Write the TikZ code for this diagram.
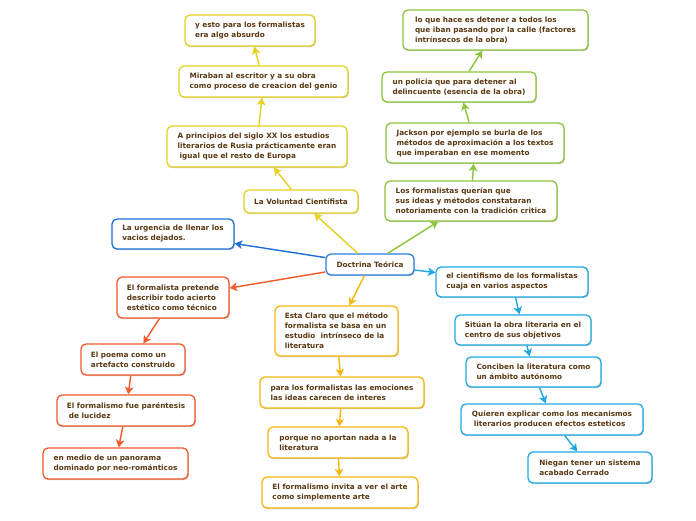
\documentclass[tikz,border=0pt]{standalone}
\usepackage{fontspec}
\setmainfont{DejaVu Sans}
\usetikzlibrary{arrows.meta,shadows}
\definecolor{cy}{HTML}{E6D01E}
\definecolor{cg}{HTML}{8CC43A}
\definecolor{cb}{HTML}{1F6ED6}
\definecolor{cc}{HTML}{2B7DE0}
\definecolor{cl}{HTML}{1FA8E2}
\definecolor{cr}{HTML}{F2592B}
\definecolor{co}{HTML}{F6B70C}
\definecolor{txt}{HTML}{5A3812}
\tikzset{
  box/.style={draw=#1, rounded corners=5pt, fill=white, line width=1.3pt,
    align=left, font=\bfseries\fontsize{7.3}{10}\selectfont, text=txt, inner sep=0pt,
    drop shadow={shadow xshift=0.8pt, shadow yshift=-1.2pt, opacity=0.22, fill=black}},
  arr/.style={draw=#1, line width=1.4pt, -{Stealth[length=7.5pt,width=8.5pt,inset=2pt]}},
}
\begin{document}
\begin{tikzpicture}[x=1pt,y=-1pt]
\useasboundingbox[fill=white] (0,0) rectangle (696,520);
% yellow branch
\node[box=cy, minimum width=130pt, minimum height=31pt] (ye) at (250,30.5) {y esto para los formalistas\\era algo absurdo};
\node[box=cy, minimum width=169pt, minimum height=31pt] (mi) at (263.5,81.5) {Miraban al escritor y a su obra\\como proceso de creacion del genio};
\node[box=cy, minimum width=180pt, minimum height=41pt] (ap) at (257,146.5) {A principios del siglo XX los estudios\\literarios de Rusia prácticamente eran\\\hspace{2pt}igual que el resto de Europa};
\node[box=cy, minimum width=114pt, minimum height=23pt] (vo) at (301,201.5) {La Voluntad Científista};
% green branch
\node[box=cg, minimum width=185pt, minimum height=40pt] (lq) at (495.5,30) {lo que hace es detener a todos los\\que iban pasando por la calle (factores\\intrínsecos de la obra)};
\node[box=cg, minimum width=154pt, minimum height=30pt] (po) at (459,87) {un policia que para detener al\\delincuente (esencia de la obra)};
\node[box=cg, minimum width=178pt, minimum height=40pt] (ja) at (475,143) {Jackson por ejemplo se burla de los\\métodos de aproximación a los textos\\que imperaban en ese momento};
\node[box=cg, minimum width=172pt, minimum height=40pt] (lf) at (471,201) {Los formalistas querían que\\sus ideas y métodos constataran\\notoriamente con la tradición critica};
% blue
\node[box=cb, minimum width=122pt, minimum height=30pt] (ur) at (173,234) {La urgencia de llenar los\\vacios dejados.};
\node[box=cc, minimum width=88pt, minimum height=21pt] (dt) at (370,264.5) {Doctrina Teórica};
% light blue branch
\node[box=cl, minimum width=152pt, minimum height=30pt] (ci) at (512,282) {el cientifismo de los formalistas\\cuaja en varios aspectos};
\node[box=cl, minimum width=136pt, minimum height=30pt] (si) at (523,330) {Sitúan la obra literaria en el\\centro de sus objetivos};
\node[box=cl, minimum width=135pt, minimum height=30pt] (co) at (533.5,372) {Conciben la literatura como\\un ámbito autónomo};
\node[box=cl, minimum width=182pt, minimum height=31pt] (qu) at (552,419.5) {Quieren explicar como los mecanismos\\\hspace{2pt}literarios producen efectos esteticos};
\node[box=cl, minimum width=124pt, minimum height=31pt] (ni) at (590,467.5) {Niegan tener un sistema\\acabado Cerrado};
% red branch
\node[box=cr, minimum width=112pt, minimum height=41pt] (ef) at (173,297.5) {El formalista pretende\\describir todo acierto\\estético como técnico};
\node[box=cr, minimum width=104pt, minimum height=31pt] (ep) at (133,359.5) {El poema como un\\artefacto construido};
\node[box=cr, minimum width=138pt, minimum height=31pt] (fp) at (126,410.5) {El formalismo fue paréntesis\\\hspace{2pt}de lucidez};
\node[box=cr, minimum width=145pt, minimum height=31pt] (em) at (115.5,463.5) {en medio de un panorama\\dominado por neo-románticos};
% orange branch
\node[box=co, minimum width=123pt, minimum height=50pt] (ec) at (336.5,331) {Esta Claro que el método\\formalista se basa en un\\estudio\ \ intrínseco de la\\literatura};
\node[box=co, minimum width=164pt, minimum height=31pt] (pf) at (342,392.5) {para los formalistas las emociones\\las ideas carecen de interes};
\node[box=co, minimum width=140pt, minimum height=31pt] (pq) at (338,442.5) {porque no aportan nada a la\\literatura};
\node[box=co, minimum width=156pt, minimum height=31pt] (fi) at (340,492.5) {El formalismo invita a ver el arte\\como simplemente arte};
% connectors
\draw[arr=cy] (dt) -- (vo);
\draw[arr=cy] (vo) -- (ap);
\draw[arr=cy] (ap) -- (mi);
\draw[arr=cy] (mi) -- (ye);
\draw[arr=cg] (dt) -- (lf);
\draw[arr=cg] (lf) -- (ja);
\draw[arr=cg] (ja) -- (po);
\draw[arr=cg] (po) -- (lq);
\draw[arr=cb] (dt) -- (ur);
\draw[arr=cr] (dt) -- (ef);
\draw[arr=cr] (ef) -- (ep);
\draw[arr=cr] (ep) -- (fp);
\draw[arr=cr] (fp) -- (em);
\draw[arr=co] (dt) -- (ec);
\draw[arr=co] (ec) -- (pf);
\draw[arr=co] (pf) -- (pq);
\draw[arr=co] (pq) -- (fi);
\draw[arr=cl] (dt) -- (ci);
\draw[arr=cl] (ci) -- (si);
\draw[arr=cl] (si) -- (co);
\draw[arr=cl] (co) -- (qu);
\draw[arr=cl] (qu) -- (ni);
\end{tikzpicture}
\end{document}
